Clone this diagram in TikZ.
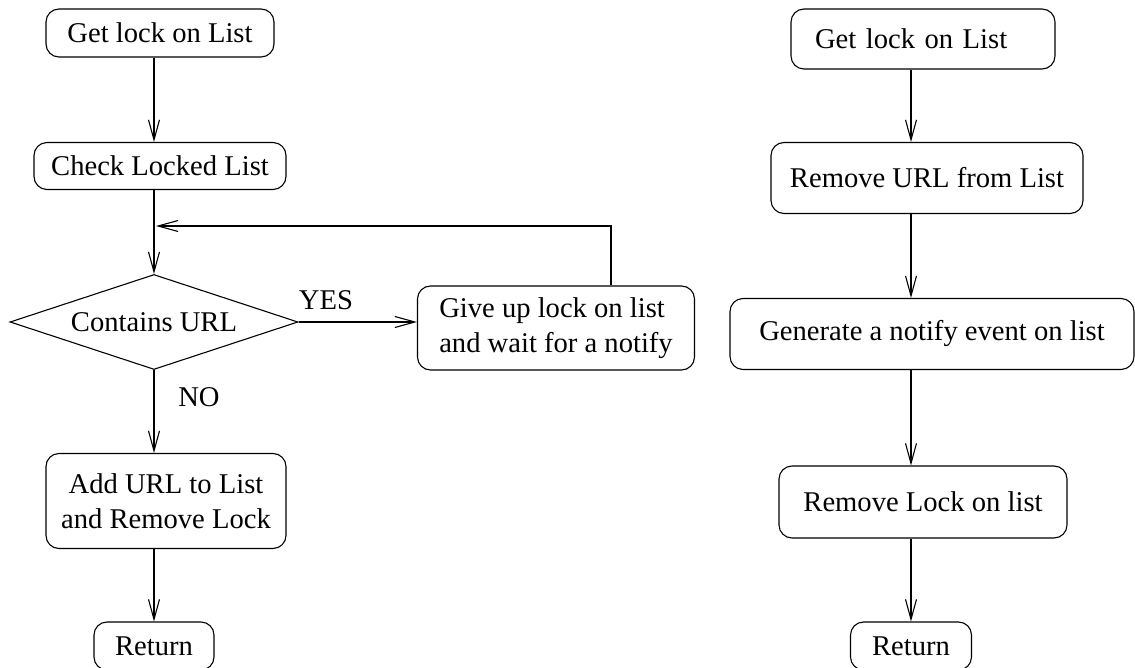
\documentclass[tikz,border=0pt]{standalone}
\usepackage{fontspec}
\setmainfont{Liberation Serif}
\usetikzlibrary{shapes.geometric,arrows.meta}
\begin{document}
\begin{tikzpicture}[x=1pt,y=-1pt,
  font=\fontsize{28.6pt}{35pt}\selectfont,
  every node/.style={inner sep=0pt},
  stepbox/.style={draw,line width=1.1pt,rounded corners=13pt,align=center},
  decision/.style={draw,line width=1.1pt,diamond,aspect=3.03},
  flow/.style={draw,line width=1.1pt,-{Straight Barb[length=20pt,width=11pt,line width=1.1pt]}},
  plain/.style={draw,line width=1.1pt}]
\clip (0,0) rectangle (1135,668);

% left flow: acquire the lock and add a URL
\coordinate (lcol) at (154,0);
\node[stepbox,minimum width=228pt,minimum height=48pt] (l1) at (160,33) {Get lock on List};
\node[stepbox,minimum width=252pt,minimum height=47pt] (l2) at (160,166) {Check Locked List};
\node[decision,minimum width=288pt,minimum height=95pt] (dec) at (154,322) {Contains URL};
\node[stepbox,minimum width=277pt,minimum height=84pt,align=left] (wait) at (556,328)
  {Give up lock on list\\and wait for a notify};
\node[stepbox,minimum width=240pt,minimum height=95pt] (add) at (166,501)
  {Add URL to List\\and Remove Lock};
\node[stepbox,minimum width=120pt,minimum height=48pt] (lret) at (154,646) {Return};

\node (yes) at (326,300) {YES};
\node (no) at (199,397) {NO};

\path[flow] (l1.south -| lcol) -- (l2.north -| lcol);
\path[flow] (l2.south -| lcol) -- (dec.north);
\path[flow] (dec.east) -- (dec.east -| wait.west);
\coordinate (back) at (611,226);
\coordinate (join) at (156,226);
\path[flow] (wait.north -| back) -- (back) -- (join);
\path[flow] (dec.south) -- (add.north -| lcol);
\path[flow] (add.south -| lcol) -- (lret.north -| lcol);

% right flow: remove a URL and notify waiters
\coordinate (rcol) at (911,0);
\node[stepbox,minimum width=264pt,minimum height=60pt,text width=216pt,inner xsep=24pt,align=left] (r1) at (923,39) {Get lock on List};
\node[stepbox,minimum width=312pt,minimum height=71pt] (r2) at (927,178) {Remove URL from List};
\node[stepbox,minimum width=404pt,minimum height=71pt] (r3) at (932,334) {Generate a notify event on list};
\node[stepbox,minimum width=288pt,minimum height=72pt] (r4) at (923,502) {Remove Lock on list};
\node[stepbox,minimum width=121pt,minimum height=48pt] (rret) at (911,646) {Return};

\path[flow] (r1.south -| rcol) -- (r2.north -| rcol);
\path[flow] (r2.south -| rcol) -- (r3.north -| rcol);
\path[flow] (r3.south -| rcol) -- (r4.north -| rcol);
\path[flow] (r4.south -| rcol) -- (rret.north -| rcol);
\end{tikzpicture}
\end{document}
